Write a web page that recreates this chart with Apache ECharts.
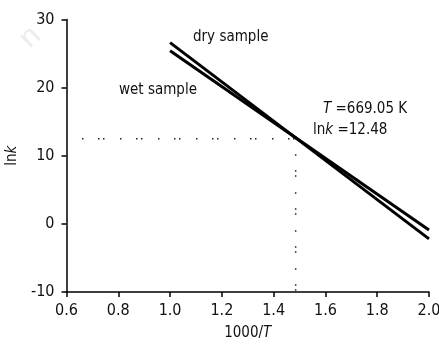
<!DOCTYPE html>
<html>
<head>
<meta charset="utf-8">
<script src="https://cdn.jsdelivr.net/npm/echarts@6/dist/echarts.min.js"></script>
<style>html,body{margin:0;padding:0;background:#fff;}#c{width:439px;height:344px;}</style>
</head>
<body>
<div id="c"></div>
<script>
const xEnds = [1.0, 2.0];
const drySample = [26.6, -2.2];
const wetSample = [25.4, -0.9];
const crossX = 1.485;
const crossY = 12.48;
const xMin = 0.6, xMax = 2.0, xStep = 0.2;
const yMin = -10, yMax = 30, yStep = 10;
const FONT = '"Liberation Sans Narrow", "Arial Narrow", "DejaVu Sans Condensed", "Liberation Sans", sans-serif';

const chart = echarts.init(document.getElementById('c'), null, {renderer: 'canvas'});
const dotStyle = {color: '#222', width: 1.5, type: [1.5, 14.5, 1.5, 3.5, 1.5, 15.5], dashOffset: 22.5};
chart.setOption({
  animation: false,
  backgroundColor: '#fff',
  grid: {left: 66.5, right: 10, top: 19.5, bottom: 52, containLabel: false, outerBoundsMode: 'none'},
  xAxis: {
    type: 'value', min: xMin, max: xMax, interval: xStep,
    name: '1000/{i|T}', nameLocation: 'middle', nameGap: 34,
    nameTextStyle: {color: '#111', fontSize: 15, fontFamily: FONT, rich: {i: {fontStyle: 'italic', fontSize: 15, fontFamily: FONT, color: '#111'}}},
    axisLine: {show: true, onZero: false, lineStyle: {color: '#000', width: 1.5}},
    axisTick: {show: true, length: 5, lineStyle: {color: '#000', width: 1.5}},
    axisLabel: {color: '#111', fontSize: 16, fontFamily: FONT, margin: 11, formatter: v => v.toFixed(1)},
    splitLine: {show: false}
  },
  yAxis: {
    type: 'value', min: yMin, max: yMax, interval: yStep,
    name: 'ln{i|k}', nameLocation: 'middle', nameGap: 40, nameRotate: 90,
    nameTextStyle: {color: '#111', fontSize: 15, fontFamily: FONT, rich: {i: {fontStyle: 'italic', fontSize: 15, fontFamily: FONT, color: '#111'}}},
    axisLine: {show: true, onZero: false, lineStyle: {color: '#000', width: 1.5}},
    axisTick: {show: true, length: 5, lineStyle: {color: '#000', width: 1.5}},
    axisLabel: {color: '#111', fontSize: 16, fontFamily: FONT, margin: 12},
    splitLine: {show: false}
  },
  series: [
    {type: 'line', name: 'dry', data: xEnds.map((x, i) => [x, drySample[i]]), symbol: 'none', lineStyle: {color: '#000', width: 3}},
    {type: 'line', name: 'wet', data: xEnds.map((x, i) => [x, wetSample[i]]), symbol: 'none', lineStyle: {color: '#000', width: 3}},
    {type: 'line', name: 'h', data: [[xMin, crossY], [crossX, crossY]], symbol: 'none', lineStyle: dotStyle},
    {type: 'line', name: 'v', data: [[crossX, crossY], [crossX, yMin]], symbol: 'none', lineStyle: dotStyle}
  ],
  graphic: [
    {type: 'text', x: 14, y: 32, rotation: 0.75, style: {text: 'n', fontSize: 30, fontFamily: 'Liberation Sans', fill: '#ececec'}},
    {type: 'text', x: 193, y: 30, style: {text: 'dry sample', fontSize: 15, fontFamily: FONT, fill: '#111'}},
    {type: 'text', x: 119, y: 83, style: {text: 'wet sample', fontSize: 15, fontFamily: FONT, fill: '#111'}},
    {type: 'text', x: 323, y: 102, style: {text: '{i|T} =669.05 K', fontSize: 15, fontFamily: FONT, fill: '#111', rich: {i: {fontStyle: 'italic', fontSize: 15, fontFamily: FONT, fill: '#111'}}}},
    {type: 'text', x: 313, y: 123, style: {text: 'ln{i|k} =12.48', fontSize: 15, fontFamily: FONT, fill: '#111', rich: {i: {fontStyle: 'italic', fontSize: 15, fontFamily: FONT, fill: '#111'}}}}
  ]
});
</script>
</body>
</html>
